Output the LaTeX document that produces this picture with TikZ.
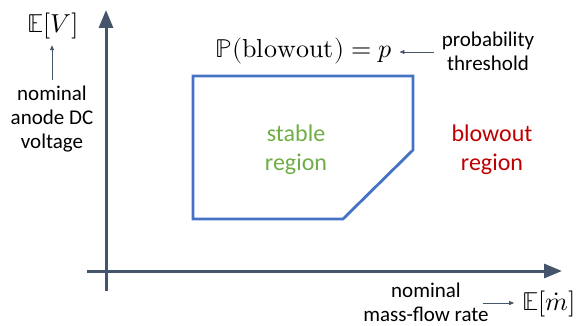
\documentclass[tikz,border=0pt]{standalone}
\usepackage{fontspec}
\usepackage{unicode-math}
\setmainfont{Carlito}
\setmathfont{Latin Modern Math}
\usetikzlibrary{arrows.meta,calc}
\definecolor{axiscol}{HTML}{44546A}
\definecolor{regcol}{HTML}{4472C4}
\definecolor{stabcol}{HTML}{70AD47}
\definecolor{blowcol}{HTML}{C00000}
\tikzset{
  axisline/.style={draw=axiscol, line width=3pt, -{Triangle[length=18pt,width=14pt]}},
  smallarrow/.style={draw=axiscol, line width=0.8pt, -{Triangle[length=5pt,width=4pt]}},
  lbl/.style={inner sep=0pt, align=center, font=\fontsize{21}{24}\selectfont},
  reglbl/.style={inner sep=0pt, align=center, font=\fontsize{24}{29}\selectfont},
  mathlbl/.style={inner sep=0pt, font=\fontsize{26}{30}\selectfont},
  region/.style={draw=regcol, line width=2.8pt, line join=miter}
}
\begin{document}
\begin{tikzpicture}[x=1pt,y=-1pt]
\useasboundingbox (0,0) rectangle (578,326);
% axes
\coordinate (ybot) at (106,291);
\coordinate (ytop) at (106,10);
\coordinate (xl) at (87,271);
\coordinate (xr) at (562,271);
\draw[axisline] (ybot) -- (ytop);
\draw[axisline] (xl) -- (xr);
% region
\draw[region] (193,76) -- (413,76) -- (413,150) -- (343,219) -- (193,219) -- cycle;
% labels
\node[reglbl, text=stabcol] (stable) at (296,150) {stable\\region};
\node[reglbl, text=blowcol] (blowout) at (492,150) {blowout\\region};
\node[mathlbl] (ev) at (53,26) {$\mathbb{E}[V]$};
\node[lbl] (vlab) at (52,119) {nominal\\anode DC\\voltage};
\draw[smallarrow] ($(vlab.north)+(0,-6)$) -- ($(vlab.north |- ev.south)+(0,6)$);
\node[mathlbl] (pb) at (304,51) {$\mathbb{P}(\symup{blowout}) = p$};
\node[lbl] (pt) at (488,51) {probability\\threshold};
\draw[smallarrow] ($(pt.west |- pb.east)+(-8,1)$) -- ($(pb.east)+(7,1)$);
\node[lbl] (mf) at (426,302) {nominal\\mass-flow rate};
\node[mathlbl] (em) at (549,304) {$\mathbb{E}[\dot{m}]$};
\draw[smallarrow] ($(mf.east |- em.west)+(-6,-1)$) -- ($(em.west)+(-8,-1)$);
\end{tikzpicture}
\end{document}
